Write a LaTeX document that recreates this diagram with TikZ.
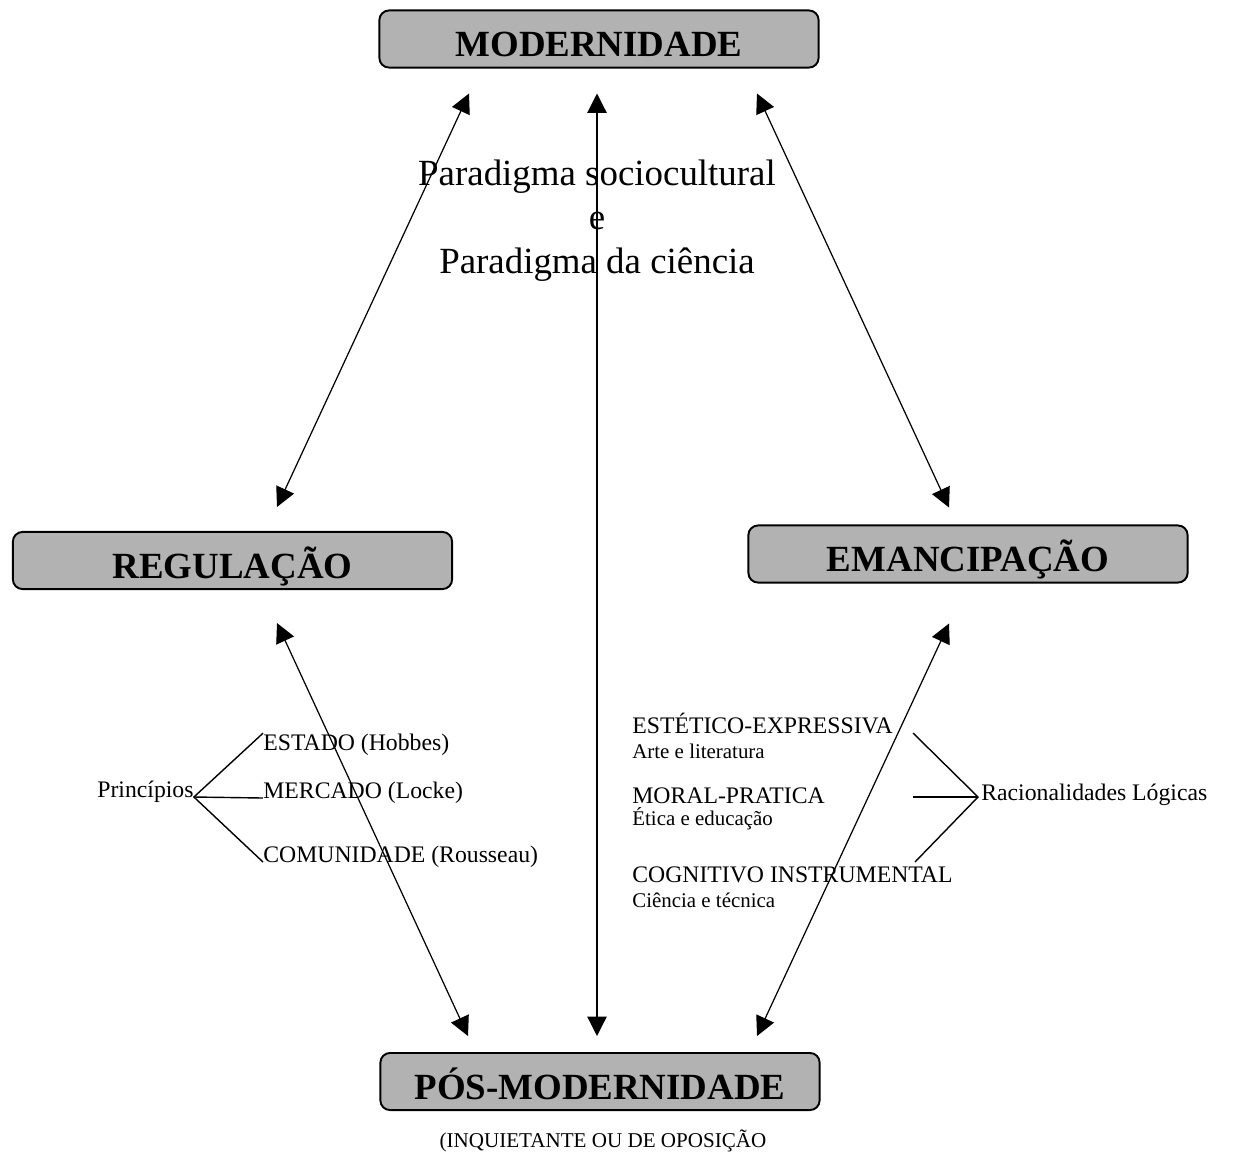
\documentclass[tikz,border=0pt]{standalone}
\usepackage{fontspec}
\setmainfont{Liberation Serif}
\usetikzlibrary{arrows.meta, calc}

\begin{document}
\begin{tikzpicture}[x=0.02cm, y=-0.02cm]
        \tikzset{box/.style={draw, line width=1.1pt, fill=black!30, rounded corners=5.5pt,
            minimum width=250pt, minimum height=32.5pt, inner sep=0pt,
            text height=20.4pt, text depth=0pt, font=\fontsize{21}{25}\selectfont\bfseries}}
        \tikzset{link/.style={{Triangle[length=11pt,width=11pt]}-{Triangle[length=11pt,width=11pt]}, line width=0.7pt}}
        \tikzset{brace/.style={line width=0.8pt}}
        % Define text styles for the labels
        \tikzset{lbl/.style={inner sep=0pt, anchor=base west, font=\fontsize{13.5}{16}\selectfont}}
        \tikzset{sub/.style={inner sep=0pt, anchor=base west, font=\fontsize{11.9}{14}\selectfont}}
        \useasboundingbox (0,0) rectangle (1233,1153);

        \node[box] (mod) at (599,39) {MODERNIDADE};
        \node[box] (reg) at (232.5,560.5) {REGULAÇÃO};
        \node[box] (ema) at (968,554) {EMANCIPAÇÃO};
        \node[box] (pos) at (600,1081.5) {PÓS-MODERNIDADE};
        \node[anchor=base, font=\fontsize{12}{14}\selectfont] (opo) at (603,1147) {(INQUIETANTE OU DE OPOSIÇÃO};

        \node[align=center, font=\fontsize{21}{24.94}\selectfont] (par) at (597,220.5)
            {Paradigma sociocultural\\e\\Paradigma da ciência};

        % Left side
        \node[lbl] (pri) at (97,797) {Princípios};
        \node[lbl] (est) at (263,750) {ESTADO (Hobbes)};
        \node[lbl] (mer) at (263,798) {MERCADO (Locke)};
        \node[lbl] (com) at (263,862) {COMUNIDADE (Rousseau)};
        \draw[brace] (est.north west) -- (pri.base east) -- (com.base west);
        \draw[brace] (pri.base east) -- (mer.base west);

        % Right side
        \node[lbl] (ete) at (632,733) {ESTÉTICO-EXPRESSIVA};
        \node[sub] (art) at (632,758) {Arte e literatura};
        \node[lbl] (mor) at (632,803) {MORAL-PRATICA};
        \node[sub] (eti) at (632,825) {Ética e educação};
        \node[lbl] (cog) at (632,882) {COGNITIVO INSTRUMENTAL};
        \node[sub] (cie) at (632,907) {Ciência e técnica};
        \node[lbl] (rac) at (981,800) {Racionalidades Lógicas};
        \coordinate (vtx) at ($(rac.base west)+(-3,-3)$);
        \coordinate (r1) at (913,733);
        \coordinate (r2) at (913,797);
        \coordinate (r3) at (915,862);
        \draw[brace] (r1) -- (vtx) -- (r3);
        \draw[brace] (r2) -- (vtx);

        % Arrow ends
        \coordinate (modL) at ($(mod.south)+(-130,25)$);
        \coordinate (modC) at ($(mod.south)+(-2,25)$);
        \coordinate (modR) at ($(mod.south)+(158,25)$);
        \coordinate (regN) at ($(reg.north)+(44.5,-24)$);
        \coordinate (regS) at ($(reg.south)+(44.5,33)$);
        \coordinate (emaN) at ($(ema.north)+(-19,-17)$);
        \coordinate (emaS) at ($(ema.south)+(-19,40)$);
        \coordinate (posL) at ($(pos.north)+(-132,-16)$);
        \coordinate (posC) at ($(pos.north)+(-3,-16)$);
        \coordinate (posR) at ($(pos.north)+(157,-16)$);

        \draw[link] (modL) -- (regN);
        \draw[link] (modC) -- (posC);
        \draw[link] (modR) -- (emaN);
        \draw[link] (regS) -- (posL);
        \draw[link] (emaS) -- (posR);
\end{tikzpicture}
\end{document}
